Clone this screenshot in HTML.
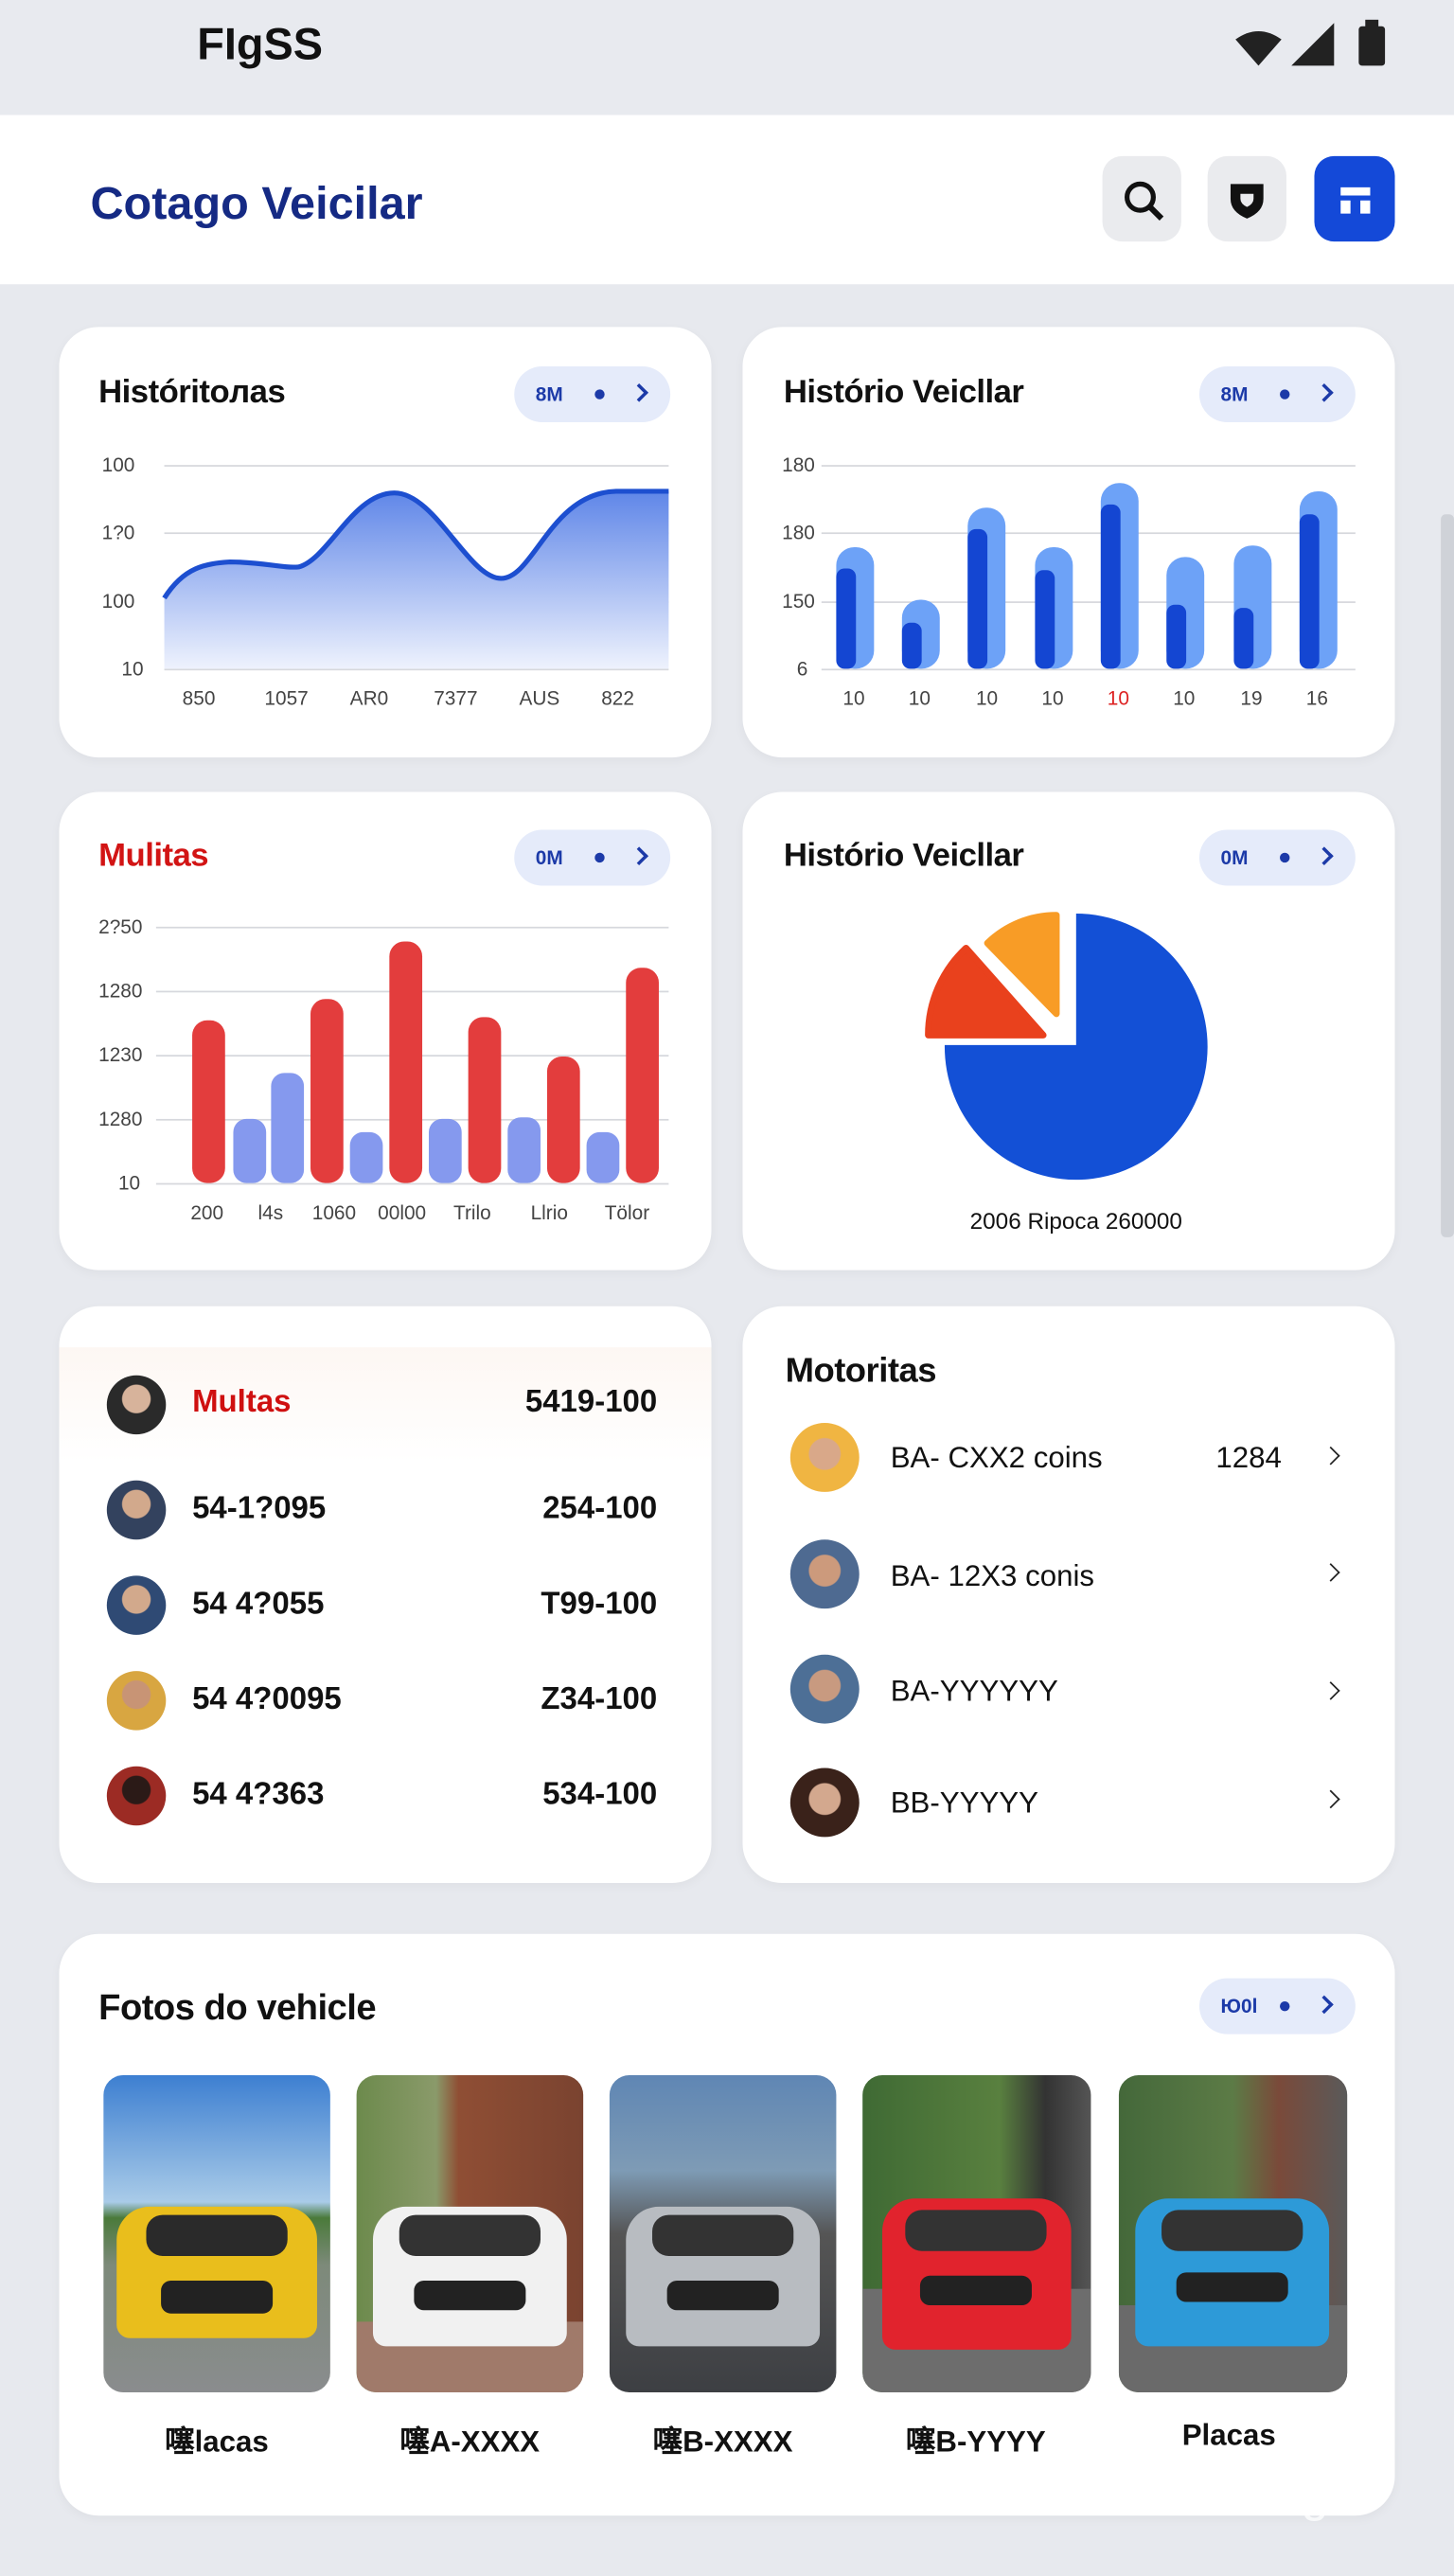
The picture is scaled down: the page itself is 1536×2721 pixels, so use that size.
<!DOCTYPE html>
<html><head><meta charset="utf-8">
<style>
*{margin:0;padding:0;box-sizing:border-box}
html,body{width:1536px;height:2720px;overflow:hidden;background:#e7e9ee}
#w{position:absolute;left:0;top:0;width:885px;height:1568px;transform:scale(1.73559);transform-origin:0 0;font-family:"Liberation Sans",sans-serif;color:#111}
.a{position:absolute}
.card{position:absolute;background:#fff;border-radius:24px;box-shadow:0 2px 6px rgba(0,0,0,.04)}
.t{position:absolute;font-weight:bold;font-size:20px;letter-spacing:-.3px}
.pill{position:absolute;width:95px;height:34px;border-radius:17px;background:#e5ebfa;color:#1c3aa8;font-size:12px;font-weight:bold}
.pill span{position:absolute;top:10px}
.pill i{position:absolute;left:49px;top:14px;width:6px;height:6px;border-radius:50%;background:#1c3aa8}
.pill b{position:absolute;left:72px;top:12px;width:8px;height:8px;border-right:2px solid #1c3aa8;border-top:2px solid #1c3aa8;transform:rotate(45deg)}
.lbl{position:absolute;font-size:12px;color:#444}
.g{position:absolute;height:1px;background:#d6d8dd}
.av{position:absolute;border-radius:50%}
.row{position:absolute;font-weight:bold;font-size:19px}
.rv{position:absolute;font-weight:bold;font-size:19px;right:485px;text-align:right}
.ch{position:absolute;left:806px;width:8px;height:8px;border-right:1.8px solid #222;border-top:1.8px solid #222;transform:rotate(45deg)}
.ph{position:absolute;top:1263px;width:138px;height:193px;border-radius:12px;overflow:hidden}
.pl{position:absolute;top:1472px;font-weight:bold;font-size:18px;width:140px;text-align:center}
</style></head><body><div id="w">
<div class="a" style="left:0;top:0;width:885px;height:70px;background:#e8eaef"></div>
<div class="a" style="left:120px;top:12px;font-size:27px;font-weight:bold">FIgSS</div>
<svg class="a" style="left:750px;top:10px" width="100" height="32"><path d="M2 14 Q16 4 30 14 L16 30Z" fill="#222"/><path d="M36 30 L62 4 L62 30Z" fill="#222"/><rect x="77" y="6" width="16" height="24" rx="2" fill="#222"/><rect x="81" y="2" width="8" height="5" fill="#222"/></svg>
<div class="a" style="left:0;top:70px;width:885px;height:103px;background:#fff"></div>
<div class="a" style="left:55px;top:108px;font-size:28px;font-weight:bold;color:#152a84">Cotago Veicilar</div>
<div class="a" style="left:671px;top:95px;width:48px;height:52px;border-radius:12px;background:#eaebee"></div>
<svg class="a" style="left:681px;top:107px" width="30" height="30"><circle cx="13" cy="13" r="8" stroke="#111" stroke-width="3" fill="none"/><line x1="19" y1="19" x2="26" y2="26" stroke="#111" stroke-width="3.5"/></svg>
<div class="a" style="left:735px;top:95px;width:48px;height:52px;border-radius:12px;background:#eaebee"></div>
<svg class="a" style="left:747px;top:109px" width="24" height="26"><path d="M2 3 H22 V12 Q22 20 12 24 Q2 20 2 12Z" fill="#111"/><path d="M8 9 H16 V12 Q16 15 12 17 Q8 15 8 12Z" fill="#eaebee"/></svg>
<div class="a" style="left:800px;top:95px;width:49px;height:52px;border-radius:12px;background:#1449d8"></div>
<svg class="a" style="left:812px;top:108px" width="26" height="26"><path d="M4 6 H22 V11 H4Z M4 14 H10 V22 H4Z M16 14 H22 V22 H16Z" fill="#fff"/></svg>
<div class="a" style="left:877px;top:313px;width:8px;height:440px;background:#cfd2d8;border-radius:3px"></div>

<!-- card1 -->
<div class="card" style="left:36px;top:199px;width:397px;height:262px"></div>
<div class="t" style="left:60px;top:228px">Históritoлas</div>
<div class="pill" style="left:313px;top:223px"><span style="left:13px">8M</span><i></i><b></b></div>
<div class="g" style="left:100px;top:283px;width:307px"></div><div class="g" style="left:100px;top:324px;width:307px"></div><div class="g" style="left:100px;top:366px;width:307px"></div><div class="g" style="left:100px;top:407px;width:307px"></div>
<div class="lbl" style="left:62px;top:276px">100</div><div class="lbl" style="left:62px;top:317px">1?0</div><div class="lbl" style="left:62px;top:359px">100</div><div class="lbl" style="left:74px;top:400px">10</div>
<svg class="a" style="left:0;top:0" width="440" height="420"><defs><linearGradient id="lg" x1="0" y1="0" x2="0" y2="1"><stop offset="0" stop-color="#5f86e8"/><stop offset="1" stop-color="#eef2fd"/></linearGradient></defs>
<path d="M100 364 C112 345 125 343 140 342 C160 342 172 346 182 345 C200 340 215 300 240 300 C265 300 285 352 305 352 C325 352 335 300 375 299 L407 299 L407 407 L100 407Z" fill="url(#lg)"/>
<path d="M100 364 C112 345 125 343 140 342 C160 342 172 346 182 345 C200 340 215 300 240 300 C265 300 285 352 305 352 C325 352 335 300 375 299 L407 299" fill="none" stroke="#1d4fd0" stroke-width="3"/></svg>
<div class="lbl" style="left:111px;top:418px">850</div><div class="lbl" style="left:161px;top:418px">1057</div><div class="lbl" style="left:213px;top:418px">AR0</div><div class="lbl" style="left:264px;top:418px">7377</div><div class="lbl" style="left:316px;top:418px">AUS</div><div class="lbl" style="left:366px;top:418px">822</div>

<!-- card2 -->
<div class="card" style="left:452px;top:199px;width:397px;height:262px"></div>
<div class="t" style="left:477px;top:228px">Histório Veicllar</div>
<div class="pill" style="left:730px;top:223px"><span style="left:13px">8M</span><i></i><b></b></div>
<div class="g" style="left:500px;top:283px;width:325px"></div><div class="g" style="left:500px;top:324px;width:325px"></div><div class="g" style="left:500px;top:366px;width:325px"></div><div class="g" style="left:500px;top:407px;width:325px"></div>
<div class="lbl" style="left:476px;top:276px">180</div><div class="lbl" style="left:476px;top:317px">180</div><div class="lbl" style="left:476px;top:359px">150</div><div class="lbl" style="left:485px;top:400px">6</div>
<svg class="a" style="left:0;top:0" width="860" height="420">
<g fill="#6da2f7"><rect x="509" y="333" width="23" height="74" rx="11"/><rect x="549" y="365" width="23" height="42" rx="11"/><rect x="589" y="309" width="23" height="98" rx="11"/><rect x="630" y="333" width="23" height="74" rx="11"/><rect x="670" y="294" width="23" height="113" rx="11"/><rect x="710" y="339" width="23" height="68" rx="11"/><rect x="751" y="332" width="23" height="75" rx="11"/><rect x="791" y="299" width="23" height="108" rx="11"/></g>
<g fill="#1446d2"><rect x="509" y="346" width="12" height="61" rx="5"/><rect x="549" y="379" width="12" height="28" rx="5"/><rect x="589" y="322" width="12" height="85" rx="5"/><rect x="630" y="347" width="12" height="60" rx="5"/><rect x="670" y="307" width="12" height="100" rx="5"/><rect x="710" y="368" width="12" height="39" rx="5"/><rect x="751" y="370" width="12" height="37" rx="5"/><rect x="791" y="313" width="12" height="94" rx="5"/></g></svg>
<div class="lbl" style="left:513px;top:418px">10</div><div class="lbl" style="left:553px;top:418px">10</div><div class="lbl" style="left:594px;top:418px">10</div><div class="lbl" style="left:634px;top:418px">10</div><div class="lbl" style="left:674px;top:418px;color:#d22">10</div><div class="lbl" style="left:714px;top:418px">10</div><div class="lbl" style="left:755px;top:418px">19</div><div class="lbl" style="left:795px;top:418px">16</div>

<!-- card3 -->
<div class="card" style="left:36px;top:482px;width:397px;height:291px"></div>
<div class="t" style="left:60px;top:510px;color:#d21414">Mulitas</div>
<div class="pill" style="left:313px;top:505px"><span style="left:13px">0M</span><i></i><b></b></div>
<div class="g" style="left:95px;top:564px;width:312px"></div><div class="g" style="left:95px;top:603px;width:312px"></div><div class="g" style="left:95px;top:642px;width:312px"></div><div class="g" style="left:95px;top:681px;width:312px"></div><div class="g" style="left:95px;top:720px;width:312px"></div>
<div class="lbl" style="left:60px;top:557px">2?50</div><div class="lbl" style="left:60px;top:596px">1280</div><div class="lbl" style="left:60px;top:635px">1230</div><div class="lbl" style="left:60px;top:674px">1280</div><div class="lbl" style="left:72px;top:713px">10</div>
<svg class="a" style="left:0;top:0" width="440" height="730">
<g fill="#e33d3d"><rect x="117" y="621" width="20" height="99" rx="9"/><rect x="189" y="608" width="20" height="112" rx="9"/><rect x="237" y="573" width="20" height="147" rx="9"/><rect x="285" y="619" width="20" height="101" rx="9"/><rect x="333" y="643" width="20" height="77" rx="9"/><rect x="381" y="589" width="20" height="131" rx="9"/></g>
<g fill="#8599ee"><rect x="142" y="681" width="20" height="39" rx="8"/><rect x="165" y="653" width="20" height="67" rx="8"/><rect x="213" y="689" width="20" height="31" rx="8"/><rect x="261" y="681" width="20" height="39" rx="8"/><rect x="309" y="680" width="20" height="40" rx="8"/><rect x="357" y="689" width="20" height="31" rx="8"/></g></svg>
<div class="lbl" style="left:116px;top:731px">200</div><div class="lbl" style="left:157px;top:731px">l4s</div><div class="lbl" style="left:190px;top:731px">1060</div><div class="lbl" style="left:230px;top:731px">00l00</div><div class="lbl" style="left:276px;top:731px">Trilo</div><div class="lbl" style="left:323px;top:731px">Llrio</div><div class="lbl" style="left:368px;top:731px">Tölor</div>

<!-- card4 -->
<div class="card" style="left:452px;top:482px;width:397px;height:291px"></div>
<div class="t" style="left:477px;top:510px">Histório Veicllar</div>
<div class="pill" style="left:730px;top:505px"><span style="left:13px">0M</span><i></i><b></b></div>
<svg class="a" style="left:0;top:0" width="860" height="760">
<path d="M655 636 L655 556 A80 81 0 1 1 575 636 Z" fill="#1350d6"/>
<path d="M643 617 L643 557 A60 60 0 0 0 601 574 Z" fill="#f89c26" stroke="#f89c26" stroke-width="4" stroke-linejoin="round"/>
<path d="M635 630 L565 630 A72 72 0 0 1 588 577 Z" fill="#e9411d" stroke="#e9411d" stroke-width="4" stroke-linejoin="round"/></svg>
<div class="a" style="left:560px;top:735px;width:190px;text-align:center;font-size:14px">2006 Ripoca 260000</div>

<!-- card5 -->
<div class="card" style="left:36px;top:795px;width:397px;height:351px"></div>
<div class="a" style="left:36px;top:820px;width:397px;height:70px;background:linear-gradient(#fdf7f3,#fff)"></div>
<div class="av" style="left:65px;top:837px;width:36px;height:36px;background:radial-gradient(circle at 50% 40%,#d7b39b 30%,#2a2a2a 32%)"></div>
<div class="row" style="left:117px;top:843px;color:#cf1010">Multas</div><div class="rv" style="top:843px">5419-100</div>
<div class="av" style="left:65px;top:901px;width:36px;height:36px;background:radial-gradient(circle at 50% 40%,#d2a98c 30%,#33425e 32%)"></div>
<div class="row" style="left:117px;top:908px">54-1?095</div><div class="rv" style="top:908px">254-100</div>
<div class="av" style="left:65px;top:959px;width:36px;height:36px;background:radial-gradient(circle at 50% 40%,#d2a98c 30%,#2f4a74 32%)"></div>
<div class="row" style="left:117px;top:966px">54 4?055</div><div class="rv" style="top:966px">T99-100</div>
<div class="av" style="left:65px;top:1017px;width:36px;height:36px;background:radial-gradient(circle at 50% 40%,#c89475 30%,#d8a641 32%)"></div>
<div class="row" style="left:117px;top:1024px">54 4?0095</div><div class="rv" style="top:1024px">Z34-100</div>
<div class="av" style="left:65px;top:1075px;width:36px;height:36px;background:radial-gradient(circle at 50% 40%,#2b1a17 30%,#9c2b24 32%)"></div>
<div class="row" style="left:117px;top:1082px">54 4?363</div><div class="rv" style="top:1082px">534-100</div>

<div class="card" style="left:452px;top:795px;width:397px;height:351px"></div>
<div class="t" style="left:478px;top:823px;font-size:21px">Motoritas</div>
<div class="av" style="left:481px;top:866px;width:42px;height:42px;background:radial-gradient(circle at 50% 45%,#d9a889 30%,#f0b542 32%)"></div>
<div class="a" style="left:542px;top:877px;font-size:18px">BA- CXX2 coins</div><div class="a" style="left:740px;top:877px;font-size:18px">1284</div><div class="ch" style="top:882px"></div>
<div class="av" style="left:481px;top:937px;width:42px;height:42px;background:radial-gradient(circle at 50% 45%,#cc9a7c 30%,#4e6a91 32%)"></div>
<div class="a" style="left:542px;top:949px;font-size:18px">BA- 12X3 conis</div><div class="ch" style="top:953px"></div>
<div class="av" style="left:481px;top:1007px;width:42px;height:42px;background:radial-gradient(circle at 50% 45%,#c89a80 30%,#4d6f96 32%)"></div>
<div class="a" style="left:542px;top:1019px;font-size:18px">BA-YYYYYY</div><div class="ch" style="top:1025px"></div>
<div class="av" style="left:481px;top:1076px;width:42px;height:42px;background:radial-gradient(circle at 50% 45%,#d3a88e 30%,#3a221a 32%)"></div>
<div class="a" style="left:542px;top:1087px;font-size:18px">BB-YYYYY</div><div class="ch" style="top:1091px"></div>

<!-- photos card -->
<div class="card" style="left:36px;top:1177px;width:813px;height:354px"></div>
<div class="t" style="left:60px;top:1209px;font-size:22px">Fotos do vehicle</div>
<div class="pill" style="left:730px;top:1204px"><span style="left:13px">Ю0l</span><i></i><b></b></div>
<div class="ph" style="left:63px;background:linear-gradient(#3d7fd1 0%,#a9cbe8 40%,#4a7a3a 45%,#7d8a7a 60%,#8a8c8e 100%)"><div class="a" style="left:8px;top:80px;width:122px;height:80px;border-radius:20px 20px 8px 8px;background:#e9be1c"></div><div class="a" style="left:26px;top:85px;width:86px;height:25px;border-radius:10px;background:#2a2a2a"></div><div class="a" style="left:35px;top:125px;width:68px;height:20px;border-radius:6px;background:#222"></div></div>
<div class="ph" style="left:217px;background:linear-gradient(90deg,#6c8a4c 0%,#8a9a6a 35%,#8f4e34 45%,#7a4330 100%)"><div class="a" style="left:0;top:150px;width:138px;height:43px;background:#a07a6a"></div><div class="a" style="left:10px;top:80px;width:118px;height:85px;border-radius:20px 20px 8px 8px;background:#f1f1f1"></div><div class="a" style="left:26px;top:85px;width:86px;height:25px;border-radius:10px;background:#333"></div><div class="a" style="left:35px;top:125px;width:68px;height:18px;border-radius:6px;background:#222"></div></div>
<div class="ph" style="left:371px;background:linear-gradient(#5f86b4 0%,#7e9bb5 30%,#555 50%,#3d3f43 100%)"><div class="a" style="left:10px;top:80px;width:118px;height:85px;border-radius:20px 20px 8px 8px;background:#b8bcc1"></div><div class="a" style="left:26px;top:85px;width:86px;height:25px;border-radius:10px;background:#333"></div><div class="a" style="left:35px;top:125px;width:68px;height:18px;border-radius:6px;background:#222"></div></div>
<div class="ph" style="left:525px;width:139px;background:linear-gradient(90deg,#3f6a34 0%,#59803f 60%,#333 80%,#555 100%)"><div class="a" style="left:0;top:130px;width:139px;height:63px;background:#6d6d6d"></div><div class="a" style="left:12px;top:75px;width:115px;height:92px;border-radius:20px 20px 8px 8px;background:#e1232d"></div><div class="a" style="left:26px;top:82px;width:86px;height:25px;border-radius:10px;background:#333"></div><div class="a" style="left:35px;top:122px;width:68px;height:18px;border-radius:6px;background:#222"></div></div>
<div class="ph" style="left:681px;width:139px;background:linear-gradient(90deg,#44683a 0%,#5c7b46 50%,#7a4a3a 70%,#5a5a5a 100%)"><div class="a" style="left:0;top:140px;width:139px;height:53px;background:#6a6a6a"></div><div class="a" style="left:10px;top:75px;width:118px;height:90px;border-radius:20px 20px 8px 8px;background:#2d9ad8"></div><div class="a" style="left:26px;top:82px;width:86px;height:25px;border-radius:10px;background:#333"></div><div class="a" style="left:35px;top:120px;width:68px;height:18px;border-radius:6px;background:#222"></div></div>
<div class="pl" style="left:62px">噻lacas</div><div class="pl" style="left:216px">噻A-XXXX</div><div class="pl" style="left:370px">噻B-XXXX</div><div class="pl" style="left:524px">噻B-YYYY</div><div class="pl" style="left:678px">Placas</div>
<div class="a" style="left:742px;top:1502px;font-size:30px;color:rgba(255,255,255,.75)">KlingAI</div>
</div></body></html>
